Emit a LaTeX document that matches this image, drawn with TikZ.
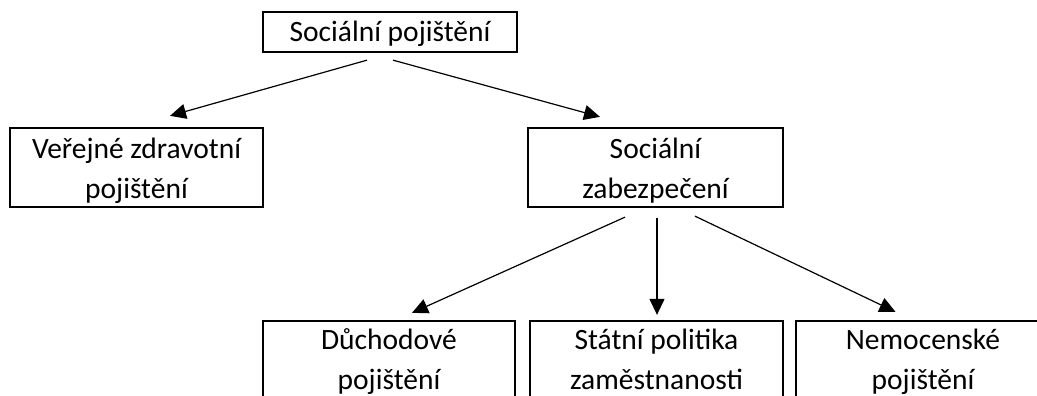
\documentclass[tikz,border=0pt]{standalone}
\usepackage{fontspec}
\setmainfont{Carlito}
\usetikzlibrary{arrows.meta}
\begin{document}
\begin{tikzpicture}[x=1pt,y=-1pt,
  box/.style={draw=black, line width=2.3pt, rectangle, inner sep=0pt},
  txt/.style={font=\fontsize{29.5}{40}\selectfont, align=center, inner sep=0pt, anchor=base},
  arr/.style={line width=1.2pt, -{Triangle[length=16pt,width=15pt]}}]
\clip (0,0) rectangle (1037,396);
% boxes
\node[box, minimum width=254pt, minimum height=40pt] (top) at (390,32) {};
\node[box, minimum width=253pt, minimum height=79pt] (vzp) at (136.5,167.5) {};
\node[box, minimum width=255pt, minimum height=79pt] (zab) at (655.5,167.5) {};
\node[box, minimum width=252pt, minimum height=100pt] (duch) at (389,371) {};
\node[box, minimum width=253pt, minimum height=100pt] (stat) at (656.5,371) {};
\node[box, minimum width=254pt, minimum height=100pt] (nem) at (923,371) {};
% texts
\node[txt] (topt) at (390,42) {Sociální pojištění};
\node[txt] (vzpt) at (136.5,198) {Veřejné zdravotní\\pojištění};
\node[txt] (zabt) at (655.5,198) {Sociální\\zabezpečení};
\node[txt] (ducht) at (389,389) {Důchodové\\pojištění};
\node[txt] (statt) at (656.5,389) {Státní politika\\zaměstnanosti};
\node[txt] (nemt) at (923,389) {Nemocenské\\pojištění};
% connectors
\draw[arr] ([xshift=-23pt,yshift=-7pt]top.south) -- ([xshift=33.5pt,yshift=11pt]vzp.north);
\draw[arr] ([xshift=3pt,yshift=-7pt]top.south) -- ([xshift=-55.5pt,yshift=10pt]zab.north);
\draw[arr] ([xshift=-30.5pt,yshift=-9pt]zab.south) -- ([xshift=23pt,yshift=7pt]duch.north);
\draw[arr] ([xshift=1.5pt,yshift=-10pt]zab.south) -- ([xshift=0.5pt,yshift=5pt]stat.north);
\draw[arr] ([xshift=39.5pt,yshift=-8pt]zab.south) -- ([xshift=-27.5pt,yshift=8pt]nem.north);
\end{tikzpicture}
\end{document}
